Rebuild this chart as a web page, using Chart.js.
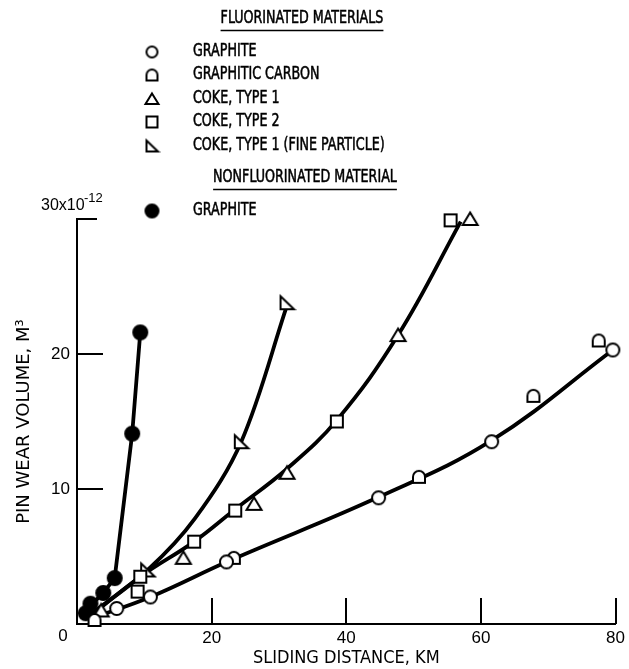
<!DOCTYPE html>
<html>
<head>
<meta charset="utf-8">
<script src="https://cdn.jsdelivr.net/npm/chart.js@4/dist/chart.umd.min.js"></script>
<style>
  html, body { margin: 0; padding: 0; background: #fff; }
  #wrap { width: 629px; height: 669px; }
</style>
</head>
<body>
<div id="wrap"><canvas id="myChart" width="629" height="669"></canvas></div>
<script>
// values: sliding distance in km, wear volume in 10^-12 m^3
var xTicks = [0, 20, 40, 60, 80];
var yTicks = [0, 10, 20, 30];

var fGraphiteX = [5.9, 10.9, 22.2, 44.8, 61.6, 79.6];
var fGraphiteY = [1.15, 2.0, 4.6, 9.35, 13.5, 20.3];
var fCarbonX = [2.6, 23.3, 50.8, 67.8, 77.5];
var fCarbonY = [0.3, 4.9, 10.9, 16.9, 21.0];
var coke1X = [3.6, 15.8, 26.3, 31.2, 47.7, 58.4];
var coke1Y = [1.0, 4.9, 8.9, 11.2, 21.4, 30.0];
var coke2X = [9.0, 9.4, 17.4, 23.5, 38.6, 55.5];
var coke2Y = [2.4, 3.5, 6.1, 8.4, 15.0, 29.9];
var fineX = [10.5, 24.4, 31.2];
var fineY = [4.0, 13.5, 23.8];
var nGraphiteX = [1.3, 2.0, 3.9, 5.6, 8.2, 9.4];
var nGraphiteY = [0.8, 1.5, 2.3, 3.4, 14.1, 21.6];

// faired curves
var nLineX = [1.3, 3.9, 5.6, 8.2, 9.4];
var nLineY = [1.0, 2.3, 3.4, 14.1, 21.6];
var fineLineX = [2.0, 10.5, 17.5, 24.4, 31.2];
var fineLineY = [0.7, 4.0, 7.8, 13.5, 23.6];
var cokeLineX = [2.0, 9.4, 17.4, 23.5, 31.2, 38.6, 47.7, 57.0];
var cokeLineY = [0.6, 3.5, 6.1, 8.5, 11.5, 15.1, 21.4, 29.8];
var gLineX = [2.0, 10.9, 22.7, 44.8, 61.6, 79.6];
var gLineY = [0.4, 2.0, 4.7, 9.4, 13.6, 20.3];

var legendHeads = ['FLUORINATED MATERIALS', 'NONFLUORINATED MATERIAL'];
var xTitle = 'SLIDING DISTANCE, KM';
var yTitle = 'PIN WEAR VOLUME, M\u00B3';
var yUnit = '30x10';
var yExp = '-12';

function pts(xs, ys) {
  return xs.map(function (x, i) { return { x: x, y: ys[i] }; });
}

// little canvas glyphs for the marker shapes
function glyph(kind, s) {
  var c = document.createElement('canvas');
  c.width = c.height = s + 4;
  var g = c.getContext('2d');
  g.translate(2, 2);
  g.lineWidth = 2;
  g.strokeStyle = '#000';
  g.fillStyle = kind == 'dot' ? '#000' : '#fff';
  var h = s / 2;
  g.beginPath();
  if (kind == 'circle' || kind == 'dot') {
    g.arc(h, h, h - 1, 0, Math.PI * 2);
  } else if (kind == 'd') {
    g.moveTo(1, s - 1);
    g.lineTo(1, h);
    g.arc(h, h, h - 1, Math.PI, 0);
    g.lineTo(s - 1, s - 1);
    g.closePath();
  } else if (kind == 'tri') {
    g.moveTo(h, 1.5);
    g.lineTo(s - 0.5, s - 2);
    g.lineTo(0.5, s - 2);
    g.closePath();
  } else if (kind == 'sq') {
    g.rect(1, 1, s - 2, s - 2);
  } else if (kind == 'rtri') {
    g.moveTo(1, 1);
    g.lineTo(s - 0.5, s - 1);
    g.lineTo(1, s - 1);
    g.closePath();
  }
  g.fill();
  g.stroke();
  return c;
}

var kinds = ['circle', 'd', 'tri', 'sq', 'rtri', 'dot'];
var plotSize = [15, 14, 16, 14, 15, 16];
var legSize = [13, 13, 14, 13, 13, 15];
var plotGlyphs = kinds.map(function (k, i) { return glyph(k, plotSize[i]); });
var legGlyphs = kinds.map(function (k, i) { return glyph(k, legSize[i]); });

function markerSet(label, xs, ys, i) {
  return {
    type: 'scatter', label: label, data: pts(xs, ys),
    pointStyle: plotGlyphs[i], pointRadius: 8, order: 0, clip: false
  };
}
function curveSet(xs, ys, tension) {
  return {
    type: 'line', label: '', data: pts(xs, ys),
    borderColor: '#000', borderWidth: 3.8, pointRadius: 0,
    tension: tension, fill: false, order: 1
  };
}

var markerSets = [
  markerSet('GRAPHITE', fGraphiteX, fGraphiteY, 0),
  markerSet('GRAPHITIC CARBON', fCarbonX, fCarbonY, 1),
  markerSet('COKE, TYPE 1', coke1X, coke1Y, 2),
  markerSet('COKE, TYPE 2', coke2X, coke2Y, 3),
  markerSet('COKE, TYPE 1 (FINE PARTICLE)', fineX, fineY, 4),
  markerSet('GRAPHITE', nGraphiteX, nGraphiteY, 5)
];

var decor = {
  id: 'decor',
  afterDraw: function (chart) {
    var ctx = chart.ctx;
    var xs = chart.scales.x, ys = chart.scales.y;
    var a = chart.chartArea;
    ctx.save();
    ctx.strokeStyle = '#000';
    ctx.fillStyle = '#000';
    ctx.lineWidth = 2;

    // tick marks point inward
    ctx.beginPath();
    yTicks.forEach(function (v) {
      if (v == 0) return;
      var p = Math.round(ys.getPixelForValue(v));
      ctx.moveTo(a.left, p);
      ctx.lineTo(a.left + (v == yTicks[yTicks.length - 1] ? 20 : 26), p);
    });
    xTicks.forEach(function (v) {
      if (v == 0) return;
      var p = Math.round(xs.getPixelForValue(v));
      ctx.moveTo(p, a.bottom);
      ctx.lineTo(p, a.bottom - 26);
    });
    ctx.stroke();

    // shared origin label and the exponent label at the top of the y axis
    ctx.font = '17px "Liberation Sans"';
    ctx.textBaseline = 'middle';
    ctx.textAlign = 'center';
    ctx.fillText('0', 63, 636);
    ctx.textAlign = 'left';
    ctx.font = '16px "Liberation Sans"';
    ctx.fillText(yUnit, 41, 206);
    ctx.font = '13px "Liberation Sans"';
    ctx.fillText(yExp, 84, 198);

    // legend, drawn as in the original figure
    function txt(s, x, y, center) {
      ctx.save();
      ctx.translate(x, y);
      ctx.scale(0.83, 1);
      ctx.font = '17px "DejaVu Sans Condensed"';
      ctx.textAlign = center ? 'center' : 'left';
      ctx.textBaseline = 'middle';
      ctx.lineWidth = 0.5;
      ctx.fillText(s, 0, 0);
      ctx.strokeText(s, 0, 0);
      var w = ctx.measureText(s).width * 0.83;
      ctx.restore();
      return w;
    }
    function head(s, x, y) {
      var w = txt(s, x, y, true);
      ctx.lineWidth = 1.3;
      ctx.beginPath();
      ctx.moveTo(x - w / 2, y + 11.5);
      ctx.lineTo(x + w / 2, y + 11.5);
      ctx.stroke();
    }
    head(legendHeads[0], 302, 19);
    head(legendHeads[1], 305, 178);
    var rows = [52, 75, 99, 122, 146, 211];
    markerSets.forEach(function (ds, i) {
      var g = legGlyphs[i];
      ctx.drawImage(g, 152 - g.width / 2, rows[i] - g.height / 2);
      txt(ds.label, 193, rows[i], false);
    });
    ctx.restore();
  }
};

var ctx = document.getElementById('myChart');
var myChart = new Chart(ctx, {
  data: {
    datasets: markerSets.concat([
      curveSet(nLineX, nLineY, 0),
      curveSet(fineLineX, fineLineY, 0.35),
      curveSet(cokeLineX, cokeLineY, 0.4),
      curveSet(gLineX, gLineY, 0.4)
    ])
  },
  options: {
    responsive: false,
    animation: false,
    events: [],
    layout: { padding: { top: 219, right: 10, left: 0, bottom: 0 } },
    plugins: { legend: { display: false }, tooltip: { enabled: false } },
    scales: {
      x: {
        type: 'linear', min: xTicks[0], max: xTicks[xTicks.length - 1],
        afterFit: function (s) { s.height = 45; },
        grid: { drawOnChartArea: false, drawTicks: false },
        border: { color: '#000', width: 2 },
        ticks: {
          stepSize: 20, padding: 4, color: '#000',
          font: { family: 'Liberation Sans', size: 17 },
          callback: function (v) { return v == 0 ? '' : v; }
        },
        title: {
          display: true, text: xTitle, color: '#000',
          font: { family: 'DejaVu Sans Condensed', size: 18 },
          padding: { top: 0, bottom: 0 }
        }
      },
      y: {
        type: 'linear', min: yTicks[0], max: yTicks[yTicks.length - 1],
        afterFit: function (s) { s.width = 77; },
        grid: { drawOnChartArea: false, drawTicks: false },
        border: { color: '#000', width: 2 },
        ticks: {
          stepSize: 10, padding: 7, color: '#000',
          font: { family: 'Liberation Sans', size: 17 },
          callback: function (v) { return (v == 0 || v == 30) ? '' : v; }
        },
        title: {
          display: true, text: yTitle, color: '#000',
          font: { family: 'DejaVu Sans', size: 18 },
          padding: { top: 14, bottom: 0 }
        }
      }
    }
  },
  plugins: [decor]
});
</script>
</body>
</html>
